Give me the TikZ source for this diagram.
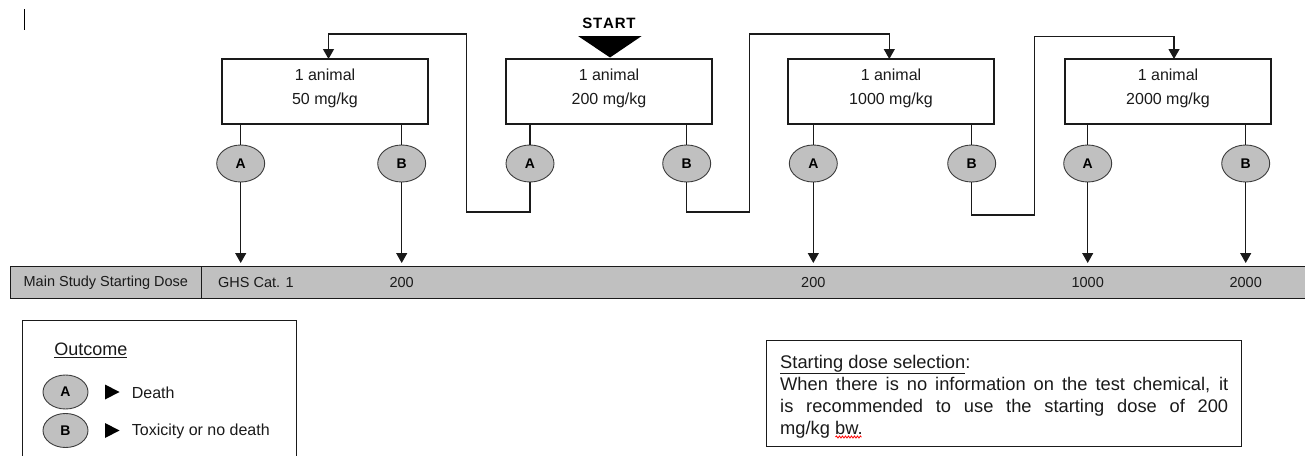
\documentclass[tikz,border=0pt]{standalone}
\usepackage{fontspec}
\setmainfont{Liberation Sans}
\usetikzlibrary{shapes.geometric,arrows.meta,decorations.pathmorphing}
\definecolor{bargray}{HTML}{C0C0C0}
\definecolor{ink}{HTML}{1A1A1A}
\begin{document}
\begin{tikzpicture}[x=1pt,y=-1pt,
  dosebox/.style={draw=ink, line width=1.2pt, minimum width=206pt, minimum height=65pt, inner sep=0pt},
  dosetext/.style={align=center, font=\fontsize{16}{24}\selectfont, text=ink, inner sep=0pt},
  outc/.style={ellipse, draw=ink!85, fill=bargray, line width=0.9pt, minimum width=48pt, minimum height=37pt, inner sep=0pt, font=\bfseries\fontsize{14}{14}\selectfont},
  legoutc/.style={outc, minimum width=45pt, minimum height=34pt},
  conn/.style={draw=ink, line width=1.2pt},
  arr/.style={conn, -{Triangle[width=11pt,length=10pt]}},
  bartext/.style={font=\fontsize{14.5}{14.5}\selectfont, text=ink, inner sep=0pt},
  legtext/.style={font=\fontsize{16}{16}\selectfont, text=ink, inner sep=0pt, anchor=west},
]
\useasboundingbox (0,0) rectangle (1305,455);

% text cursor
\draw[line width=1pt] (24,9) -- (24,30);

% dose boxes
\node[dosebox] (box1) at (325,91.5) {};
\node[dosebox] (box2) at (609,91.5) {};
\node[dosebox] (box3) at (891,91.5) {};
\node[dosebox] (box4) at (1168,91.5) {};
\node[dosetext] (t1) at (325,88) {1 animal\\50 mg/kg};
\node[dosetext] (t2) at (609,88) {1 animal\\200 mg/kg};
\node[dosetext] (t3) at (891,88) {1 animal\\1000 mg/kg};
\node[dosetext] (t4) at (1168,88) {1 animal\\2000 mg/kg};

% START
\node[font=\bfseries\fontsize{15}{15}\selectfont, inner sep=0pt] (start) at (609,23) {S\kern0.8ptT\kern0.8ptA\kern0.8ptR\kern0.8ptT};
\fill[black] (578,36) -- (641.7,36) -- (610,57.5) -- cycle;

% outcome ellipses
\node[outc] (a1) at (240.7,163.5) {A};
\node[outc] (b1) at (401.7,163.5) {B};
\node[outc] (a2) at (530,163.5) {A};
\node[outc] (b2) at (686.7,163.5) {B};
\node[outc] (a3) at (813.3,163.5) {A};
\node[outc] (b3) at (971.7,163.5) {B};
\node[outc] (a4) at (1087.7,163.5) {A};
\node[outc] (b4) at (1245.7,163.5) {B};

\foreach \e/\b in {a1/box1,b1/box1,a2/box2,b2/box2,a3/box3,b3/box3,a4/box4,b4/box4}{
  \draw[conn] (\e |- \b.south) -- (\e.north);
}

% bar
\fill[bargray] (10,266) rectangle (1310,298.7);
\draw[conn, line width=1pt] (1310,266) -- (10,266) -- (10,298.7) -- (1310,298.7);
\node[inner sep=0pt, minimum width=191.7pt, minimum height=32.7pt] (barlabel) at (105.85,282.35) {};
\draw[conn, line width=1pt] (201.7,266) -- (201.7,298.7);
\node[bartext] (main) at (barlabel.center) {Main Study Starting Dose};
\node[bartext, anchor=west] (ghs) at (218,283) {GHS Cat. 1};
\node[bartext] (v1) at (401.7,283) {200};
\node[bartext] (v2) at (813.3,283) {200};
\node[bartext] (v3) at (1087.7,283) {1000};
\node[bartext] (v4) at (1245.7,283) {2000};

% arrows down to bar
\coordinate (bartop) at (0,263);
\foreach \e in {a1,b1,a3,a4,b4}{
  \draw[arr] (\e.south) -- (\e |- bartop);
}

% loop connectors
\coordinate (l1a) at (466.7,212);
\coordinate (l1b) at (466.7,34);
\coordinate (e1) at (328.5,59);
\draw[arr] (a2.south) |- (l1a) -- (l1b) -| (e1);

\coordinate (l2a) at (749.3,212);
\coordinate (l2b) at (749.3,34);
\coordinate (e3) at (889.3,59);
\draw[arr] (b2.south) |- (l2a) -- (l2b) -| (e3);

\coordinate (l3a) at (1034.3,215);
\coordinate (l3b) at (1034.3,36.3);
\coordinate (e4) at (1174,59);
\draw[arr] (b3.south) |- (l3a) -- (l3b) -| (e4);

% legend
\draw[conn, line width=1pt] (22,470) -- (22,320) -- (296,320) -- (296,470);
\node[font=\fontsize{18}{18}\selectfont, inner sep=0pt, text=ink] (outcome) at (90.8,350) {\underline{Outcome}};
\node[legoutc] (la) at (65.5,392) {A};
\node[legoutc] (lb) at (65.5,430.5) {B};
\fill[black] (105,384.5) -- (105,399.5) -- (119.5,392) -- cycle;
\fill[black] (105,423) -- (105,438) -- (119.5,430.5) -- cycle;
\node[legtext] (death) at (131.7,393) {Death};
\node[legtext] (tox) at (131.7,431) {Toxicity or no death};

% starting dose selection box
\draw[conn, line width=1pt] (766.7,340) rectangle (1241.7,446.7);
\node[anchor=north west, inner sep=0pt, font=\fontsize{18.3}{22}\selectfont, text=ink, align=left] (sds) at (780,355) {%
\underline{Starting dose selection}:\\
\makebox[448pt][s]{When there is no information on the test chemical, it}\\
\makebox[448pt][s]{is recommended to use the starting dose of 200}\\
mg/kg bw.};
\draw[red, line width=0.8pt, decorate, decoration={snake, amplitude=1pt, segment length=3pt}] (835.5,437) -- (861.5,437);
\end{tikzpicture}
\end{document}
